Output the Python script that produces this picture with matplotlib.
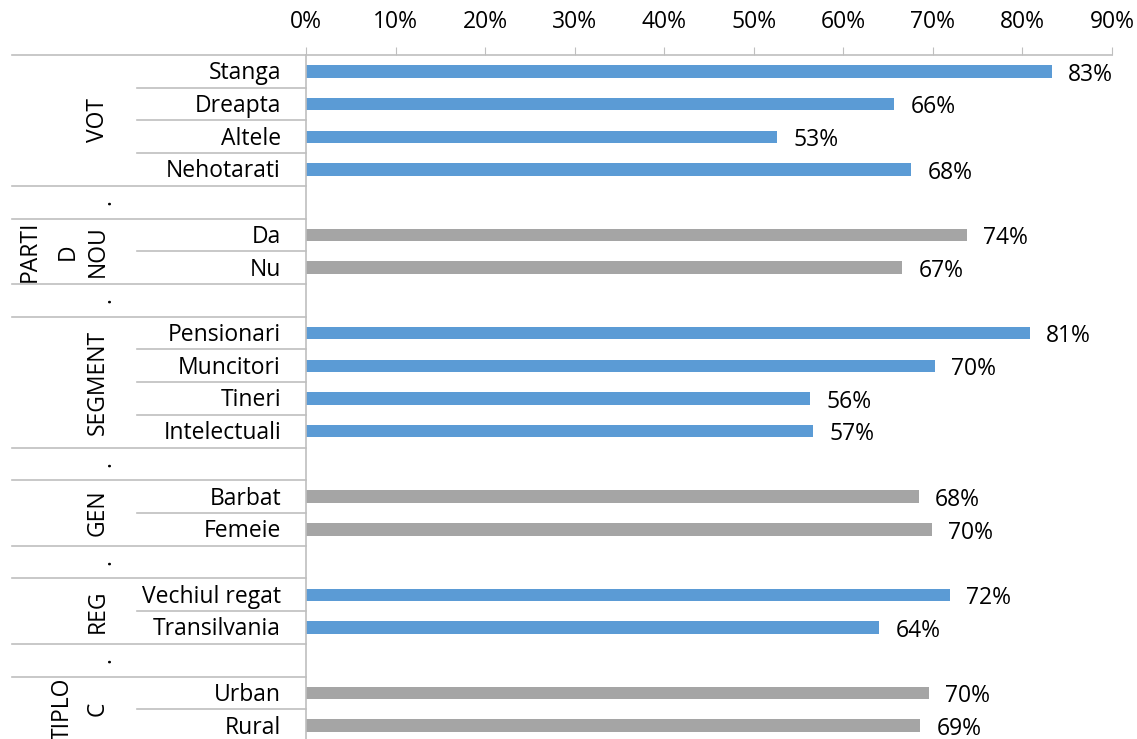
import matplotlib.pyplot as plt

plt.rcParams['font.family'] = ['Open Sans', 'DejaVu Sans']

# rows from top to bottom; empty groups "." are spacer rows as in the original
groups = ['VOT', '.', 'PARTID NOU', '.', 'SEGMENT', '.', 'GEN', '.', 'REG', '.', 'TIPLOC']
group_items = [
    ['Stanga', 'Dreapta', 'Altele', 'Nehotarati'],
    [''],
    ['Da', 'Nu'],
    [''],
    ['Pensionari', 'Muncitori', 'Tineri', 'Intelectuali'],
    [''],
    ['Barbat', 'Femeie'],
    [''],
    ['Vechiul regat', 'Transilvania'],
    [''],
    ['Urban', 'Rural'],
]
group_values = [
    [83.3, 65.7, 52.6, 67.6],
    [None],
    [73.8, 66.6],
    [None],
    [80.8, 70.2, 56.3, 56.6],
    [None],
    [68.4, 69.9],
    [None],
    [71.9, 64.0],
    [None],
    [69.6, 68.6],
]
group_colors = ['#5B9BD5', None, '#A5A5A5', None, '#5B9BD5', None,
                '#A5A5A5', None, '#5B9BD5', None, '#A5A5A5']

fs = 16.5
fig = plt.figure(figsize=(11.37, 7.39), dpi=100)
ax = fig.add_axes([306 / 1137, 1 - 742 / 739, 806 / 1137, 687 / 739])

def px(x):
    # figure pixel -> axes fraction (x only)
    return (x - 306) / 806

line_col = '#BFBFBF'
ytr = ax.get_yaxis_transform()
txt_col = '#000000'

row = 0
for g, items, vals, col in zip(groups, group_items, group_values, group_colors):
    start = row
    for i, (name, v) in enumerate(zip(items, vals)):
        if v is not None:
            ax.barh(row, v / 100, height=0.38, color=col)
            ax.text(v / 100 + 0.018, row + 0.1, f'{round(v)}%', va='center',
                    ha='left', fontsize=fs, color=txt_col)
        if name:
            ax.text(px(281), row + 0.06, name, transform=ytr, ha='right',
                    va='center', fontsize=fs, color=txt_col)
        if i > 0:
            ax.plot([px(137), 0], [row - 0.5, row - 0.5], transform=ytr,
                    color=line_col, lw=1.2, clip_on=False)
        row += 1
    end = row - 1
    ax.plot([px(12), 0], [start - 0.5, start - 0.5], transform=ytr,
            color=line_col, lw=1.2, clip_on=False)
    yc = (start + end) / 2
    if g == 'PARTID NOU':
        for t, x in [('PARTI', 30), ('D', 68), ('NOU', 98)]:
            ax.text(px(x), yc, t, transform=ytr, rotation=90, ha='center',
                    va='center', fontsize=fs, color=txt_col)
    elif g == 'TIPLOC':
        for t, x in [('TIPLO', 63), ('C', 98)]:
            ax.text(px(x), yc, t, transform=ytr, rotation=90, ha='center',
                    va='center', fontsize=fs, color=txt_col)
    elif g == '.':
        ax.text(px(104), yc, '.', transform=ytr, rotation=90, ha='center',
                va='center', fontsize=fs, color=txt_col)
    else:
        ax.text(px(98), yc, g, transform=ytr, rotation=90, ha='center',
                va='center', fontsize=fs, color=txt_col)

ax.set_ylim(row - 0.5, -0.5)
ax.set_xlim(0, 0.9)
ax.xaxis.tick_top()
ticks = [i / 10 for i in range(10)]
ax.set_xticks(ticks)
ax.set_xticklabels([f'{i * 10}%' for i in range(10)], fontsize=fs)
ax.tick_params(axis='x', direction='out', length=6, color=line_col, pad=9)
ax.set_yticks([])
for s in ['right', 'bottom']:
    ax.spines[s].set_visible(False)
for s in ['top', 'left']:
    ax.spines[s].set_color(line_col)
    ax.spines[s].set_linewidth(1.2)

fig.savefig('out.png', dpi=100)
